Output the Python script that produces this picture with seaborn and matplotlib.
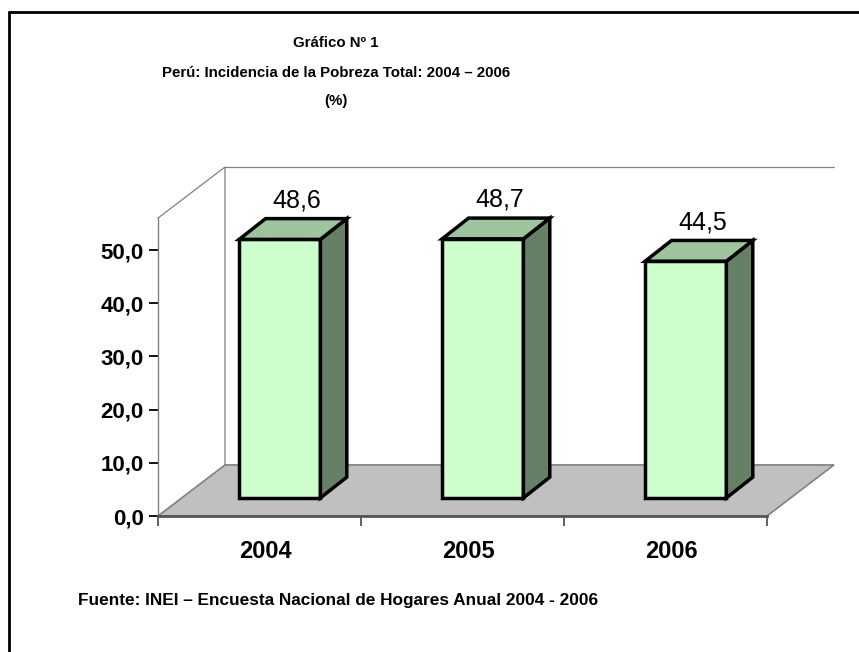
import matplotlib
matplotlib.use("Agg")
import matplotlib.pyplot as plt
import matplotlib.transforms as mtransforms
import seaborn as sns

# Datos
years = ["2004", "2005", "2006"]
pobreza = [48.6, 48.7, 44.5]
value_labels = ["48,6", "48,7", "44,5"]
y_ticks = [0, 10, 20, 30, 40, 50]
y_tick_labels = ["0,0", "10,0", "20,0", "30,0", "40,0", "50,0"]

title_lines = ["Gráfico Nº 1",
               "Perú: Incidencia de la Pobreza Total: 2004 – 2006",
               "(%)"]
fuente = "Fuente: INEI – Encuesta Nacional de Hogares Anual 2004 - 2006"

sns.set_style("white")
plt.rcParams["font.family"] = ["Liberation Sans", "DejaVu Sans"]
plt.rcParams["text.color"] = "black"
plt.rcParams["xtick.labelcolor"] = "black"
plt.rcParams["ytick.labelcolor"] = "black"

W, H = 859, 652
fig = plt.figure(figsize=(W / 100, H / 100), dpi=100)
ymax = 56
ax = fig.add_axes([158 / W, (H - 516) / H, 609 / W, ymax * 5.32 / H])

# profundidad "3D" (en unidades de datos)
DX, DY = 0.33, 9.6     # suelo / paredes
BX, BY = 0.10, 3.4     # cara frontal de la barra
SX, SY = 0.13, 3.9     # fondo de la barra

sns.barplot(x=years, y=pobreza, ax=ax, width=0.40, color="#ccffcc", saturation=1,
            edgecolor="black", linewidth=2.5, zorder=3)
bars = list(ax.patches)

for p, v, lbl in zip(bars, pobreza, value_labels):
    p.set_x(p.get_x() + BX)
    p.set_y(BY)
    p.set_clip_on(False)
    x0 = p.get_x()
    x1 = x0 + p.get_width()
    top = BY + v
    # lado
    ax.fill([x1, x1 + SX, x1 + SX, x1], [BY, BY + SY, top + SY, top],
            fc="#668066", ec="black", lw=2.5, zorder=3, clip_on=False, joinstyle="miter")
    # tapa
    ax.fill([x0, x1, x1 + SX, x0 + SX], [top, top, top + SY, top + SY],
            fc="#9dc49d", ec="black", lw=2.5, zorder=3, clip_on=False, joinstyle="miter")
    ax.text((x0 + x1) / 2 + SX / 2 + 0.02, top + SY + 3.4, lbl, ha="center", va="center",
            fontsize=18, color="black", clip_on=False)

# suelo y paredes
ax.fill([-0.5, 2.5, 2.5 + DX, -0.5 + DX], [0, 0, DY, DY], fc="#c0c0c0", ec="#808080",
        lw=1.2, zorder=0, clip_on=False)
ax.plot([-0.5, -0.5 + DX, -0.5 + DX], [ymax, ymax + DY, DY], color="#808080", lw=0.9,
        clip_on=False, zorder=0.5)
ax.plot([-0.5 + DX, 2.5 + DX], [ymax + DY, ymax + DY], color="#808080", lw=0.9,
        clip_on=False, zorder=0.5)

ax.set_xlim(-0.5, 2.5)
ax.set_ylim(0, ymax)
ax.set_xlabel("")
ax.set_ylabel("")
ax.patch.set_alpha(0)

ax.set_yticks(y_ticks, y_tick_labels)
ax.tick_params(axis="y", direction="out", length=6.5, width=1.3, pad=3.6,
               labelsize=16, color="black", labelcolor="black", left=True)
for t in ax.get_yticklabels():
    t.set_fontweight("bold")

ax.set_xticks(range(len(years)), years)
ax.set_xticks([-0.5, 0.5, 1.5, 2.5], minor=True)
ax.tick_params(axis="x", which="major", length=0, pad=17, labelsize=17, labelcolor="black")
ax.tick_params(axis="x", which="minor", direction="out", length=7, width=1.3,
               color="#555555", bottom=True)
offset = mtransforms.ScaledTranslation(6 / 100, 0, fig.dpi_scale_trans)
for t in ax.get_xticklabels():
    t.set_fontweight("bold")
    t.set_transform(t.get_transform() + offset)

for s in ["top", "right"]:
    ax.spines[s].set_visible(False)
ax.spines["left"].set_color("#808080")
ax.spines["left"].set_linewidth(1)
ax.spines["bottom"].set_color("#555555")
ax.spines["bottom"].set_linewidth(2)

# títulos y fuente
for txt, ypix in zip(title_lines, [43, 73, 101]):
    fig.text(336 / W, 1 - ypix / H, txt, ha="center", va="center", color="black",
             fontsize=10.8, fontweight="bold")
fig.text(78 / W, 1 - 601 / H, fuente, ha="left", va="center", fontsize=12.4,
         fontweight="bold", color="black")

# marco
fig.add_artist(plt.Line2D([9 / W, 1], [1 - 12 / H, 1 - 12 / H], color="black", lw=2))
fig.add_artist(plt.Line2D([9 / W, 9 / W], [0, 1 - 12 / H], color="black", lw=2))

fig.savefig("out.png", dpi=100)
